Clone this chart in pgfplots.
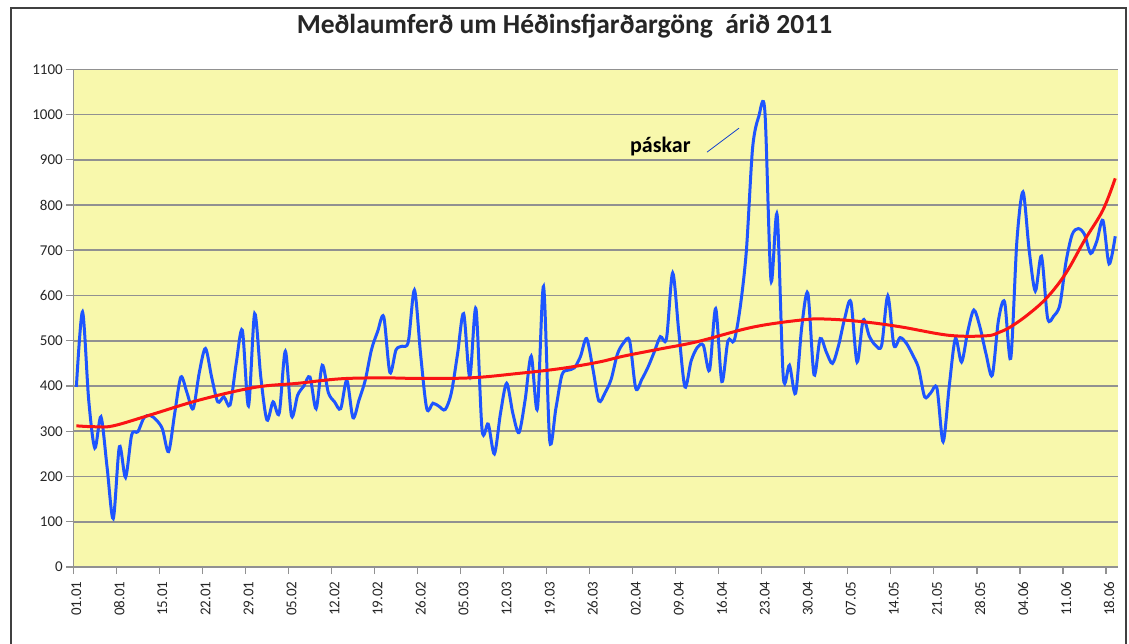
\documentclass[border=0pt]{standalone}
\usepackage{pgfplots}
\pgfplotsset{compat=1.18}
\usepackage{fontspec}
\setmainfont{Carlito}
\definecolor{bgyellow}{RGB}{248,248,172}
\definecolor{gridgray}{RGB}{145,145,145}
\definecolor{lineblue}{RGB}{30,85,255}
\definecolor{linered}{RGB}{250,20,20}
\begin{document}
\begin{tikzpicture}[x=1pt,y=1pt]
\useasboundingbox (0,0) rectangle (1129,-643);
\fill[white] (0,0) rectangle (1129,-643);
\draw[black!75, line width=1.2pt] (11,-650) -- (11,-8) -- (1126,-8) -- (1126,-650);
\node[font=\bfseries\fontsize{27.5}{30}\selectfont, text=black!85] at (564.5,-26) {Meðlaumferð um Héðinsfjarðargöng\ \ árið 2011};
\begin{axis}[
  at={(73.3pt,-567pt)}, anchor=south west,
  scale only axis, width=1045pt, height=497.7pt,
  xmin=-0.5, xmax=169.5, ymin=0, ymax=1100,
  axis background/.style={fill=bgyellow},
  axis lines*=left,
  axis line style={gridgray, line width=1.5pt},
  ytick={0,100,...,1100},
  ymajorgrids, grid style={gridgray, line width=1.6pt},
  tick style={gridgray, line width=1.2pt},
  tick align=outside, major tick length=7pt,
  /pgf/number format/assume math mode=true,
  yticklabel style={/pgf/number format/1000 sep={}, font=\fontsize{15}{15}\selectfont, text=black!85},
  xtick={-0.5,6.5,...,167.5}, xticklabels={},
  extra x ticks={0,7,...,168},
  extra x tick labels={01.01,08.01,15.01,22.01,29.01,05.02,12.02,19.02,26.02,05.03,12.03,19.03,26.03,02.04,09.04,16.04,23.04,30.04,07.05,14.05,21.05,28.05,04.06,11.06,18.06},
  extra x tick style={major tick length=0pt, xticklabel shift=11pt, xticklabel style={rotate=90, anchor=east, font=\fontsize{15}{15}\selectfont, text=black!85}},
  clip=false,
]
\addplot[lineblue, line width=3pt, smooth, tension=0.5] coordinates {
(0,398)(1,564)(2,370)(3,263)(4,332)(5,220)(6,107)(7,266)(8,198)(9,292)
(10,299)(11,330)(12,335)(13,325)(14,305)(15,255)(16,340)(17,420)(18,385)(19,350)
(20,430)(21,483)(22,420)(23,365)(24,376)(25,358)(26,450)(27,523)(28,356)(29,560)
(30,420)(31,325)(32,365)(33,340)(34,477)(35,334)(36,380)(37,400)(38,420)(39,350)
(40,446)(41,385)(42,365)(43,350)(44,413)(45,330)(46,370)(47,413)(48,480)(49,520)
(50,553)(51,430)(52,480)(53,488)(54,498)(55,612)(56,470)(57,350)(58,362)(59,355)
(60,348)(61,385)(62,470)(63,560)(64,420)(65,571)(66,303)(67,316)(68,250)(69,340)
(70,406)(71,340)(72,297)(73,369)(74,466)(75,350)(76,620)(77,280)(78,350)(79,425)
(80,435)(81,440)(82,465)(83,505)(84,440)(85,367)(86,385)(87,415)(88,470)(89,495)
(90,500)(91,395)(92,415)(93,442)(94,475)(95,509)(96,505)(97,650)(98,520)(99,398)
(100,455)(101,485)(102,490)(103,435)(104,571)(105,410)(106,500)(107,500)(108,575)(109,700)
(110,925)(111,995)(112,1008)(113,634)(114,778)(115,420)(116,446)(117,384)(118,530)(119,605)
(120,425)(121,505)(122,475)(123,450)(124,490)(125,550)(126,586)(127,453)(128,546)(129,510)
(130,490)(131,490)(132,599)(133,490)(134,507)(135,495)(136,470)(137,440)(138,376)(139,385)
(140,395)(141,277)(142,400)(143,505)(144,453)(145,520)(146,568)(147,530)(148,470)(149,424)
(150,545)(151,586)(152,461)(153,720)(154,829)(155,700)(156,610)(157,687)(158,550)(159,555)
(160,580)(161,675)(162,735)(163,748)(164,735)(165,693)(166,720)(167,766)(168,670)(169,731)
};
\addplot[linered, line width=3pt, smooth, tension=0.6] coordinates {
(0,312)(3,310)(6,312)(12,336)(20,369)(29,397)(36,406)(43,416)(50,418)(55,417)
(64,418)(72,428)(79,439)(85,453)(89,466)(95,482)(101,498)(110,530)(118,546)(122,548)
(128,542)(134,531)(142,512)(148,511)(150,518)(152,531)(155,560)(158,597)(161,650)(164,722)
(167,789)(169,859)
};
\node[font=\bfseries\fontsize{22}{24}\selectfont, anchor=center] at (axis cs:95,930) {páskar};
\draw[lineblue!80!black, line width=0.8pt] (axis cs:102.6,917) -- (axis cs:107.8,970);
\end{axis}
\end{tikzpicture}
\end{document}
